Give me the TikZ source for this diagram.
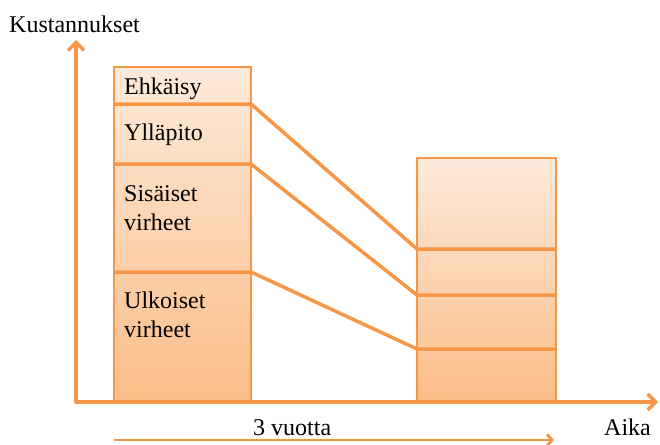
\documentclass[tikz,border=0pt]{standalone}
\usepackage{fontspec}
\setmainfont{Liberation Serif}
\usetikzlibrary{arrows.meta}
\definecolor{accent}{HTML}{F79646}
\definecolor{barTop}{HTML}{FDEADA}
\definecolor{barBot}{HTML}{FBBD88}
\begin{document}
\begin{tikzpicture}[x=1pt,y=-1pt,
  axisline/.style={draw=accent, line width=3.5pt, line cap=round, -{Straight Barb[length=8pt,width=16pt,line width=3.5pt]}},
  spanline/.style={draw=accent, line width=2.8pt, -{Straight Barb[length=5pt,width=11pt,line width=2.8pt]}},
  barbox/.style={draw=accent, line width=1.3pt, top color=barTop, bottom color=barBot},
  divline/.style={draw=accent, line width=3.5pt, line join=round},
  lbl/.style={font=\fontsize{24}{29}\selectfont, inner sep=0pt, anchor=base west, align=left}]
\useasboundingbox (0,0) rectangle (660,444);
% bars
\coordinate (LTL) at (114,67);  \coordinate (LBR) at (251,402);
\coordinate (RTL) at (417,158); \coordinate (RBR) at (556,402);
\path[barbox] (LTL) rectangle (LBR);
\path[barbox] (RTL) rectangle (RBR);
% divider end points
\coordinate (La1) at (114,104); \coordinate (Lb1) at (251,104);
\coordinate (La2) at (114,164); \coordinate (Lb2) at (251,164);
\coordinate (La3) at (114,272); \coordinate (Lb3) at (251,272);
\coordinate (Ra1) at (417,249); \coordinate (Rb1) at (556,249);
\coordinate (Ra2) at (417,295); \coordinate (Rb2) at (556,295);
\coordinate (Ra3) at (417,349); \coordinate (Rb3) at (556,349);
\draw[divline] (La1) -- (Lb1) -- (Ra1) -- (Rb1);
\draw[divline] (La2) -- (Lb2) -- (Ra2) -- (Rb2);
\draw[divline] (La3) -- (Lb3) -- (Ra3) -- (Rb3);
% axes
\coordinate (O) at (76,402);
\coordinate (Ytop) at (76,40);
\coordinate (Xend) at (658,402);
\draw[axisline] (O) -- (Ytop);
\draw[axisline] (O) -- (Xend);
\coordinate (Sa) at (114,440);
\coordinate (Sb) at (554,440);
\draw[spanline] (Sa) -- (Sb);
% labels
\node[lbl] (ky) at (9,33) {Kustannukset};
\node[lbl] (eh) at (124,94) {Ehkäisy};
\node[lbl] (yl) at (124,140) {Ylläpito};
\node[lbl] (si) at (124,230) {Sisäiset\\virheet};
\node[lbl] (ul) at (124,337) {Ulkoiset\\virheet};
\node[lbl] (vu) at (253,435) {3 vuotta};
\node[lbl] (ai) at (604,435) {Aika};
\end{tikzpicture}
\end{document}
